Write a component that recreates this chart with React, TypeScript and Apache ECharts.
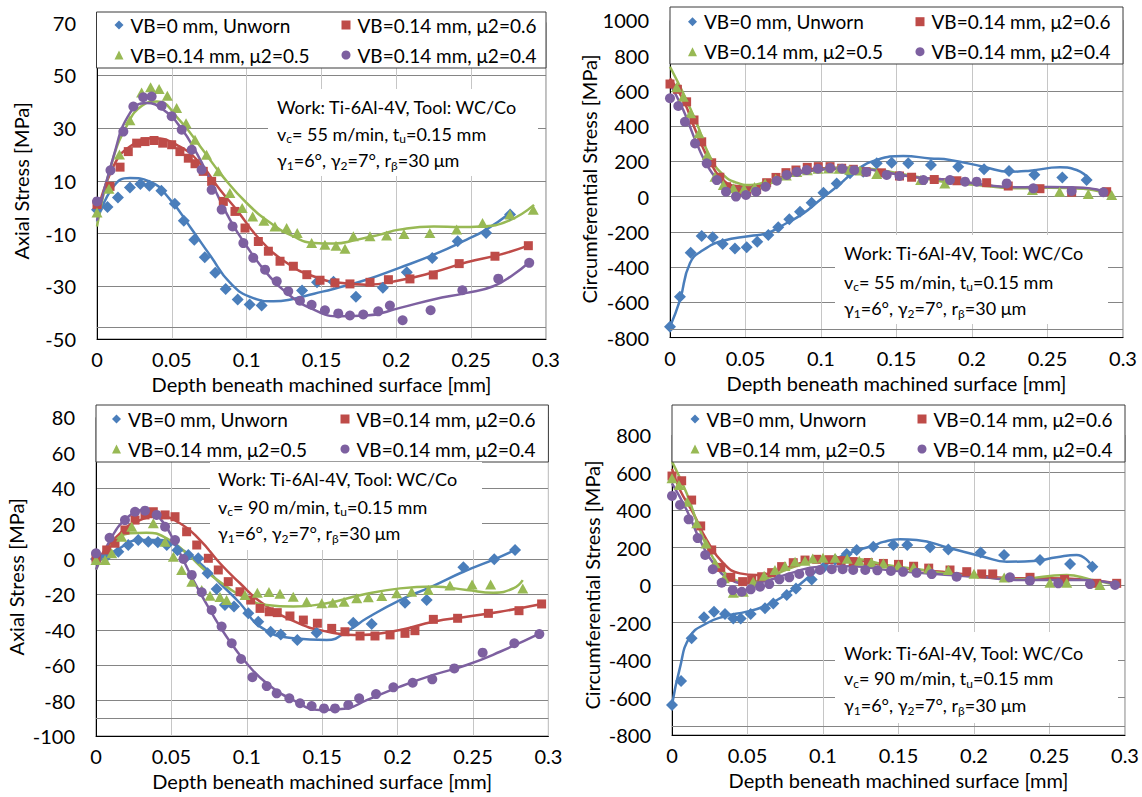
import React, { useEffect, useRef } from 'react';
import * as echarts from 'echarts';

type Pt = [number, number];

const FONT = 'Lato, "Open Sans", sans-serif';

const seriesNames = ['VB=0 mm, Unworn', 'VB=0.14 mm, μ2=0.6', 'VB=0.14 mm, μ2=0.5', 'VB=0.14 mm, μ2=0.4'];
const seriesColors = ['#4A7EBB', '#BE4B48', '#98B954', '#7D60A0'];
const seriesSymbols = ['diamond', 'rect', 'triangle', 'circle'];
const symbolSizes: (number | number[])[] = [12, 9, [11, 10], 10];

const xTickLabels = ['0', '0.05', '0.1', '0.15', '0.2', '0.25', '0.3'];
const xTitle = 'Depth beneath machined surface [mm]';
const axialTitle = 'Axial Stress [MPa]';
const circTitle = 'Circumferential Stress [MPa]';
const cuttingSpeeds = ['55', '55', '90', '90'];

// ---- Axial stress, vc = 55 m/min ----
const tlBluePts: Pt[] = [[0, -1], [0.007, 0.1], [0.014, 3.7], [0.022, 7.5], [0.029, 8.8], [0.035, 8.1], [0.043, 6.2], [0.052, 1.3], [0.058, -5.1], [0.065, -12.3], [0.072, -19], [0.079, -24.9], [0.086, -31], [0.094, -35], [0.102, -36.9], [0.11, -37.3], [0.137, -31.6], [0.147, -28.5], [0.158, -28.3], [0.173, -34], [0.191, -30.6], [0.207, -24.7], [0.224, -19.3], [0.241, -12.9], [0.26, -9.8], [0.276, -2.8]];
const tlRedPts: Pt[] = [[0, 1], [0.0087, 7.9], [0.0154, 15.2], [0.0209, 21.1], [0.0265, 24.3], [0.0321, 24.9], [0.0381, 25.3], [0.0439, 24.3], [0.0499, 23.7], [0.0554, 21.1], [0.061, 18.6], [0.0655, 16.5], [0.071, 13.6], [0.0766, 9.8], [0.0844, 2.2], [0.0922, -1.6], [0.0989, -7.9], [0.1078, -13], [0.1145, -16.7], [0.1223, -20.5], [0.1312, -22.4], [0.1402, -25.6], [0.149, -27.7], [0.159, -28.7], [0.169, -29.1], [0.1824, -28.5], [0.1947, -27.5], [0.2091, -27.2], [0.2247, -25.7], [0.242, -21.4], [0.2659, -18.6], [0.2882, -14.6]];
const tlGreenPts: Pt[] = [[0, -2], [0.008, 7], [0.015, 20], [0.022, 33], [0.0298, 43.5], [0.0358, 45.5], [0.0415, 44.8], [0.047, 42.3], [0.0532, 37.6], [0.0595, 31.9], [0.0655, 25.6], [0.0732, 19.9], [0.081, 13.6], [0.0888, 5.4], [0.097, -0.3], [0.104, -3.5], [0.1115, -5.1], [0.1189, -7.3], [0.1267, -7.9], [0.1338, -9.8], [0.1434, -13.6], [0.1523, -14.2], [0.1597, -14.6], [0.1657, -15.8], [0.1713, -11], [0.1824, -11], [0.1935, -10.7], [0.2051, -10.2], [0.2224, -9.8], [0.2403, -8.5], [0.2576, -6], [0.2759, -2.8], [0.2915, -1]];
const tlPurplePts: Pt[] = [[0, 2.2], [0.009, 14], [0.0176, 28.7], [0.0243, 38.2], [0.0309, 41.7], [0.0365, 42], [0.0432, 38.5], [0.0499, 34.5], [0.0566, 29.4], [0.0633, 21.8], [0.0699, 14.2], [0.0766, 6.6], [0.0833, -0.9], [0.0906, -7.3], [0.0978, -13.6], [0.1044, -19.2], [0.1123, -23.7], [0.1201, -28.1], [0.1278, -31.9], [0.1356, -35.5], [0.1434, -37], [0.1523, -39.1], [0.1612, -40.3], [0.169, -41.1], [0.1779, -40.7], [0.1879, -39.5], [0.1957, -37.3], [0.2042, -42.9], [0.2229, -39.1], [0.2441, -31.5], [0.2681, -27.1], [0.2888, -21.1]];
const tlBlueFit: Pt[] = [[0, -5.4], [0.011, 7.9], [0.022, 11.1], [0.035, 9.8], [0.049, 2.8], [0.062, -7.3], [0.076, -18.6], [0.089, -28.7], [0.104, -34.4], [0.118, -35.7], [0.131, -34.8], [0.145, -32.8], [0.158, -31], [0.18, -27.5], [0.202, -23], [0.225, -18], [0.247, -12.3], [0.26, -8.5], [0.276, -2.2]];
const tlRedFit: Pt[] = [[0, -2.2], [0.011, 15.5], [0.022, 23], [0.0376, 26.2], [0.0554, 23], [0.0688, 16.7], [0.0822, 6.6], [0.0933, -1], [0.1089, -12.3], [0.1267, -21.1], [0.1445, -26.2], [0.1623, -28.7], [0.18, -29.4], [0.2024, -27.7], [0.2247, -24.7], [0.247, -20.9], [0.2692, -18], [0.2882, -14.6]];
const tlGreenFit: Pt[] = [[0, -7.3], [0.01, 17], [0.02, 31], [0.03, 38.5], [0.04, 40.1], [0.055, 33.1], [0.069, 23], [0.084, 11.7], [0.1, 1.6], [0.116, -6], [0.131, -11], [0.145, -13.6], [0.158, -13.8], [0.174, -12.3], [0.189, -10.4], [0.202, -8.5], [0.225, -7.3], [0.243, -7.5], [0.256, -7.3], [0.274, -5.4], [0.292, 0.9]];
const tlPurpleFit: Pt[] = [[0, -5], [0.011, 19.2], [0.022, 35.7], [0.0331, 39.5], [0.0443, 37], [0.0554, 30.6], [0.0666, 20.5], [0.0777, 7.9], [0.0888, -4.7], [0.1, -14.8], [0.1133, -24.9], [0.1267, -32.5], [0.1445, -38.8], [0.1623, -41.4], [0.18, -41.1], [0.2024, -38.2], [0.2247, -35], [0.247, -32.5], [0.2648, -30], [0.2781, -25.6], [0.2888, -20.9]];

// ---- Circumferential stress, vc = 55 m/min ----
const trBluePts: Pt[] = [[0, -738], [0.0066, -568], [0.0137, -318], [0.021, -224], [0.0283, -231], [0.0349, -269], [0.043, -294], [0.0508, -288], [0.0578, -256], [0.0651, -218], [0.0717, -174], [0.079, -129], [0.0861, -86], [0.0938, -35], [0.1016, 22], [0.1104, 75], [0.1192, 132], [0.128, 141], [0.1369, 189], [0.1468, 192], [0.1578, 189], [0.1728, 179], [0.1909, 170], [0.208, 155], [0.2245, 145], [0.2413, 124], [0.2598, 109], [0.2759, 94]];
const trRedPts: Pt[] = [[0, 639], [0.0049, 609], [0.011, 538], [0.0159, 435], [0.021, 311], [0.0276, 192], [0.033, 110], [0.0375, 56], [0.0441, 28], [0.0508, 28], [0.0574, 41], [0.064, 79], [0.0702, 109], [0.0768, 136], [0.0834, 151], [0.0909, 166], [0.0982, 170], [0.106, 170], [0.1137, 161], [0.1214, 155], [0.1298, 141], [0.14, 135], [0.152, 117], [0.16, 110], [0.175, 97], [0.19, 90], [0.2097, 79], [0.224, 60], [0.245, 45], [0.266, 25], [0.2892, 28]];
const trGreenPts: Pt[] = [[0.0044, 620], [0.0088, 567], [0.0137, 473], [0.0192, 359], [0.0247, 236], [0.0298, 113], [0.0353, 66], [0.042, 48], [0.049, 45], [0.056, 55], [0.063, 75], [0.07, 100], [0.077, 120], [0.084, 140], [0.091, 150], [0.098, 158], [0.105, 160], [0.112, 158], [0.119, 152], [0.1259, 148], [0.1369, 128], [0.166, 94], [0.182, 75], [0.24, 38], [0.258, 28], [0.277, 15], [0.2925, 9]];
const trPurplePts: Pt[] = [[0, 558], [0.0055, 514], [0.0099, 425], [0.0166, 302], [0.0243, 189], [0.031, 94], [0.0371, 28], [0.0437, 0], [0.0503, 9], [0.057, 28], [0.0633, 56], [0.0707, 90], [0.0773, 123], [0.084, 140], [0.0905, 151], [0.098, 158], [0.106, 162], [0.114, 158], [0.122, 150], [0.13, 140], [0.1435, 123], [0.152, 117], [0.1678, 94], [0.1854, 94], [0.1954, 85], [0.2031, 85], [0.223, 75], [0.2406, 47], [0.266, 32], [0.287, 25]];
const trBlueFit: Pt[] = [[0, -738], [0.0066, -587], [0.0132, -378], [0.022, -303], [0.0353, -250], [0.053, -224], [0.064, -208], [0.075, -161], [0.0883, -95], [0.0993, -19], [0.1104, 56], [0.1236, 151], [0.1369, 208], [0.1545, 230], [0.1722, 217], [0.1854, 208], [0.2075, 170], [0.2252, 141], [0.2384, 147], [0.2583, 166], [0.2693, 151], [0.2781, 94]];
const trRedFit: Pt[] = [[0, 671], [0.0088, 548], [0.0177, 359], [0.0265, 198], [0.0353, 94], [0.0441, 60], [0.053, 56], [0.066, 85], [0.0817, 132], [0.0971, 160], [0.1148, 164], [0.1302, 158], [0.141, 141], [0.163, 110], [0.1854, 94], [0.2075, 66], [0.2296, 51], [0.2517, 53], [0.2737, 47], [0.2914, 15]];
const trGreenFit: Pt[] = [[0, 737], [0.0088, 586], [0.0177, 416], [0.0265, 226], [0.0353, 123], [0.0441, 79], [0.053, 66], [0.064, 85], [0.0795, 123], [0.0971, 151], [0.1148, 164], [0.1302, 160], [0.1457, 141], [0.1634, 113], [0.181, 85], [0.2075, 62], [0.2296, 48], [0.2517, 50], [0.2737, 45], [0.2914, 9]];
const trPurpleFit: Pt[] = [[0, 640], [0.0088, 491], [0.0177, 302], [0.0265, 151], [0.0353, 75], [0.0441, 47], [0.053, 47], [0.0662, 75], [0.0817, 123], [0.0971, 151], [0.1148, 160], [0.1302, 155], [0.141, 141], [0.163, 110], [0.1854, 94], [0.2075, 68], [0.2296, 53], [0.2517, 55], [0.2737, 50], [0.2914, 18]];

// ---- Axial stress, vc = 90 m/min ----
const blBluePts: Pt[] = [[0, 0], [0.007, 1.5], [0.0148, 4.1], [0.0214, 7.9], [0.028, 10.7], [0.0347, 9.8], [0.041, 9.5], [0.0469, 7.9], [0.054, 5], [0.0612, 2.3], [0.0678, 0.4], [0.074, -8], [0.08, -17], [0.0855, -26], [0.0915, -26.9], [0.101, -30.7], [0.1076, -35.4], [0.1158, -41.1], [0.1225, -42.6], [0.1335, -45.8], [0.1463, -41.6], [0.1706, -36], [0.1828, -36.7], [0.2049, -24.7], [0.2193, -23.2], [0.2436, -4.7], [0.2641, -0.2], [0.2779, 5.1]];
const blRedPts: Pt[] = [[0, 0.4], [0.0071, 5.1], [0.0126, 8.9], [0.0192, 16.4], [0.0259, 22], [0.0325, 24.9], [0.038, 26.7], [0.0458, 24.9], [0.0524, 23.9], [0.0601, 15.4], [0.0668, 7.9], [0.0745, 0.4], [0.0811, -6.2], [0.0877, -12.8], [0.0955, -18.5], [0.1026, -23.2], [0.1088, -27.9], [0.1149, -29.8], [0.1202, -30.3], [0.1286, -32.2], [0.1375, -34.5], [0.1468, -36.3], [0.1563, -39.2], [0.1651, -41.1], [0.1751, -43.5], [0.185, -43.5], [0.195, -42.9], [0.2049, -42], [0.2115, -40.5], [0.2237, -34.1], [0.2398, -33.5], [0.2602, -30.7], [0.2805, -29.2], [0.2955, -25.4]];
const blGreenPts: Pt[] = [[0, -0.6], [0.006, -0.6], [0.0104, 3.2], [0.017, 12.6], [0.0237, 18.2], [0.038, 20.2], [0.0458, 9.8], [0.0513, 1.3], [0.0568, -6.2], [0.0635, -12.8], [0.0701, -17.5], [0.0756, -20.8], [0.0822, -21.5], [0.0866, -23.2], [0.0988, -20.3], [0.107, -19], [0.1147, -18.7], [0.122, -19.6], [0.1308, -21.3], [0.1397, -24.1], [0.1497, -25], [0.157, -24.7], [0.1645, -24.1], [0.1729, -22.2], [0.1806, -21.6], [0.1895, -20.9], [0.1994, -19.4], [0.2093, -18.5], [0.2204, -17.5], [0.2347, -15], [0.2494, -14.4], [0.2617, -14.4], [0.283, -16.6]];
const blPurplePts: Pt[] = [[0, 3.2], [0.009, 12], [0.0192, 22], [0.0259, 26.7], [0.0325, 27.3], [0.0402, 24.9], [0.0458, 18.2], [0.0524, 10.7], [0.058, 0], [0.0635, -9], [0.0701, -18.8], [0.0767, -28.8], [0.0833, -38.2], [0.09, -47.6], [0.0962, -56.5], [0.1037, -66.8], [0.1132, -71.8], [0.1198, -75.9], [0.1282, -78.7], [0.1353, -81.5], [0.143, -83.1], [0.1512, -84.4], [0.1585, -84.4], [0.1673, -82.5], [0.1745, -78.7], [0.1857, -76.3], [0.1972, -72.5], [0.21, -69.9], [0.223, -68], [0.2376, -61.8], [0.2564, -52.9], [0.2774, -47.6], [0.294, -42.4]];
const blBlueFit: Pt[] = [[0, -2.4], [0.0137, 5.1], [0.0292, 10.7], [0.0424, 10.7], [0.0557, 6], [0.069, -2.4], [0.0822, -13.7], [0.0955, -25], [0.1088, -38.2], [0.1308, -44.8], [0.153, -45.8], [0.168, -40], [0.1795, -33.5], [0.2016, -23.2], [0.2215, -16], [0.2436, -7.2], [0.2657, 0.4], [0.2779, 5.1]];
const blRedFit: Pt[] = [[0, -2.4], [0.0137, 12.6], [0.0292, 22], [0.0424, 23.9], [0.0557, 20.2], [0.069, 10.7], [0.0822, -2.4], [0.0955, -13.7], [0.1088, -24], [0.1308, -35], [0.153, -41], [0.1751, -42.9], [0.2016, -40.1], [0.2237, -35.4], [0.2458, -32.6], [0.2679, -29.8], [0.2955, -25.4]];
const blGreenFit: Pt[] = [[0, -6], [0.0093, 6.9], [0.0225, 14.5], [0.0336, 14.9], [0.0469, 11.7], [0.0601, 3.2], [0.0734, -7.2], [0.0866, -15.6], [0.0999, -22.5], [0.1132, -26], [0.1308, -26.9], [0.153, -25], [0.1751, -20.5], [0.2016, -16.6], [0.2237, -15.6], [0.2458, -17.5], [0.2635, -19], [0.2767, -16.6], [0.283, -11.9]];
const blPurpleFit: Pt[] = [[0, -6], [0.0093, 10.7], [0.0203, 23], [0.0314, 27.7], [0.0424, 23], [0.0535, 6.9], [0.0645, -11.9], [0.0756, -28.8], [0.0866, -43.9], [0.0999, -58.9], [0.1132, -70.2], [0.1308, -79.7], [0.1485, -85.3], [0.1662, -84.4], [0.1795, -79.7], [0.2016, -72.1], [0.2237, -65.5], [0.2458, -59.9], [0.2679, -52.4], [0.2944, -42]];

// ---- Circumferential stress, vc = 90 m/min ----
const brBluePts: Pt[] = [[0, -640], [0.006, -512], [0.013, -284], [0.0212, -172], [0.0278, -142], [0.0351, -155], [0.0406, -178], [0.0455, -178], [0.0521, -155], [0.0616, -124], [0.0671, -98], [0.076, -53], [0.0821, -18], [0.0925, 30], [0.1005, 95], [0.108, 135], [0.1157, 165], [0.1223, 187], [0.1333, 204], [0.1466, 213], [0.1558, 213], [0.1709, 201], [0.183, 190], [0.2044, 174], [0.2199, 160], [0.2437, 133], [0.2636, 112], [0.2784, 98]];
const brRedPts: Pt[] = [[0, 581], [0.0064, 556], [0.013, 453], [0.019, 315], [0.0263, 187], [0.0323, 94], [0.0389, 41], [0.0468, 18], [0.0528, 27], [0.0594, 44], [0.066, 66], [0.0726, 98], [0.0803, 119], [0.0881, 133], [0.0958, 137], [0.104, 135], [0.112, 130], [0.12, 125], [0.13, 120], [0.14, 115], [0.15, 110], [0.16, 100], [0.17, 90], [0.1841, 80], [0.1952, 71], [0.2051, 59], [0.2124, 59], [0.2371, 41], [0.26, 30], [0.2813, 9], [0.2945, 9]];
const brGreenPts: Pt[] = [[0, 570], [0.0046, 533], [0.0101, 444], [0.0164, 329], [0.0225, 222], [0.0285, 116], [0.0346, 36], [0.0406, -41], [0.0472, -36], [0.0538, 18], [0.061, 50], [0.0682, 80], [0.0748, 101], [0.0815, 124], [0.0881, 130], [0.0932, 142], [0.1, 145], [0.108, 145], [0.116, 140], [0.124, 130], [0.132, 122], [0.14, 115], [0.15, 105], [0.16, 95], [0.17, 88], [0.183, 80], [0.2, 60], [0.22, 40], [0.2503, 12], [0.2614, 12], [0.2834, 0]];
const brPurplePts: Pt[] = [[0, 475], [0.0053, 427], [0.011, 350], [0.017, 250], [0.022, 160], [0.027, 84], [0.0329, 12], [0.0402, -27], [0.0462, -36], [0.0521, -23], [0.0583, -9], [0.0644, 5], [0.0711, 30], [0.0777, 41], [0.0843, 59], [0.0914, 71], [0.098, 80], [0.1058, 84], [0.113, 84], [0.12, 80], [0.128, 80], [0.136, 78], [0.145, 75], [0.153, 70], [0.162, 65], [0.172, 58], [0.1885, 44], [0.2238, 41], [0.237, 23], [0.2558, 9], [0.2768, 5], [0.2934, 0]];
const brBlueFit: Pt[] = [[0, -640], [0.005, -450], [0.0119, -275], [0.023, -204], [0.034, -169], [0.0495, -142], [0.0605, -116], [0.0715, -71], [0.0826, -9], [0.0936, 62], [0.1068, 133], [0.1201, 178], [0.1333, 210], [0.14, 230], [0.151, 244], [0.162, 240], [0.1841, 196], [0.2062, 151], [0.2217, 124], [0.2393, 128], [0.2548, 148], [0.268, 160], [0.2768, 116]];
const brRedFit: Pt[] = [[0, 620], [0.0053, 507], [0.0141, 382], [0.023, 240], [0.034, 116], [0.045, 62], [0.0561, 53], [0.0715, 80], [0.0892, 124], [0.1068, 140], [0.1245, 130], [0.14, 105], [0.162, 82], [0.1841, 66], [0.2062, 48], [0.2283, 36], [0.2503, 36], [0.2724, 30], [0.2945, 9]];
const brGreenFit: Pt[] = [[0, 658], [0.0097, 489], [0.0185, 293], [0.0274, 142], [0.0384, 44], [0.0495, 18], [0.0627, 36], [0.0781, 89], [0.098, 133], [0.1201, 140], [0.14, 110], [0.162, 85], [0.1841, 59], [0.2062, 41], [0.2283, 30], [0.2503, 48], [0.2614, 53], [0.2768, 30], [0.2914, 5]];
const brPurpleFit: Pt[] = [[0, 542], [0.0097, 400], [0.0185, 240], [0.0274, 116], [0.0384, 30], [0.0495, 9], [0.0627, 23], [0.0781, 62], [0.098, 98], [0.1201, 100], [0.14, 82], [0.162, 66], [0.1841, 53], [0.2062, 41], [0.2283, 27], [0.2503, 27], [0.2724, 27], [0.2945, 4]];

// Panel layout: plot rectangles, axis ranges, legend and note-box placement.
const panels = [
  {
    grid: { left: 97, top: 22.7, width: 449, height: 316.3 },
    yMin: -50, yMax: 70, yStep: 20, yName: axialTitle, yNameGap: 66, refLine: -45.5,
    pts: [tlBluePts, tlRedPts, tlGreenPts, tlPurplePts],
    fits: [tlBlueFit, tlRedFit, tlGreenFit, tlPurpleFit],
    legendTop: 14, legendLeft: [114.5, 341.5], legendBox: [96.5, 12, 449.5, 56],
    noteBox: [268, 89, 270, 87], noteX: 277, noteY: [107, 133.5, 160],
  },
  {
    grid: { left: 670, top: 20.4, width: 453, height: 317.2 },
    yMin: -800, yMax: 1000, yStep: 200, yName: circTitle, yNameGap: 69, refLine: -750,
    pts: [trBluePts, trRedPts, trGreenPts, trPurplePts],
    fits: [trBlueFit, trRedFit, trGreenFit, trPurpleFit],
    legendTop: 10.7, legendLeft: [688, 915.5], legendBox: [670, 7, 453, 57],
    noteBox: [835, 235, 273, 89], noteX: 844, noteY: [253.3, 281.5, 308.3],
  },
  {
    grid: { left: 96, top: 417.4, width: 452.4, height: 318.6 },
    yMin: -100, yMax: 80, yStep: 20, yName: axialTitle, yNameGap: 70, refLine: -89.7,
    pts: [blBluePts, blRedPts, blGreenPts, blPurplePts],
    fits: [blBlueFit, blRedFit, blGreenFit, blPurpleFit],
    legendTop: 408, legendLeft: [112, 340.5], legendBox: [96, 405, 452.4, 57],
    noteBox: [210, 462, 272, 88], noteX: 218, noteY: [479.3, 506.7, 533.3],
  },
  {
    grid: { left: 672, top: 435, width: 453, height: 300 },
    yMin: -800, yMax: 800, yStep: 200, yName: circTitle, yNameGap: 70, refLine: -752,
    pts: [brBluePts, brRedPts, brGreenPts, brPurplePts],
    fits: [brBlueFit, brRedFit, brGreenFit, brPurpleFit],
    legendTop: 408, legendLeft: [690.5, 917.5], legendBox: [672, 405, 453, 57],
    noteBox: [835, 632, 283, 91], noteX: 844, noteY: [653.3, 678.3, 705],
  },
];

const noteLines = (vc: string) => [
  '{t|Work: Ti-6Al-4V, Tool: WC/Co}',
  `{t|v}{s|c}{t|= ${vc} m/min, t}{s|u}{t|=0.15 mm}`,
  '{t|γ}{s|1}{t|=6°, γ}{s|2}{t|=7°, r}{s|β}{t|=30 μm}',
];

const labelStyle = { fontFamily: FONT, fontSize: 20, color: '#000' };

function buildOption() {
  const grid: any[] = [];
  const xAxis: any[] = [];
  const yAxis: any[] = [];
  const series: any[] = [];
  const legend: any[] = [];
  const graphic: any[] = [];

  panels.forEach((p, i) => {
    grid.push({ ...p.grid, show: true, borderColor: '#7f7f7f', borderWidth: 1, backgroundColor: '#fff' });
    xAxis.push({
      type: 'value', gridIndex: i, min: 0, max: 0.3, interval: 0.05,
      name: xTitle, nameLocation: 'middle', nameGap: 35,
      nameTextStyle: { ...labelStyle },
      axisLine: { show: true, onZero: false, lineStyle: { color: '#000', width: 1 } },
      axisTick: { show: false },
      axisLabel: { ...labelStyle, margin: 10, formatter: (v: number) => xTickLabels[Math.round(v / 0.05)] },
      splitLine: { show: true, lineStyle: { color: '#c6c6c6', width: 1 } },
    });
    yAxis.push({
      type: 'value', gridIndex: i, min: p.yMin, max: p.yMax, interval: p.yStep,
      name: p.yName, nameLocation: 'middle', nameGap: p.yNameGap,
      nameTextStyle: { ...labelStyle },
      axisLine: { show: true, onZero: false, lineStyle: { color: '#000', width: 1 } },
      axisTick: { show: false },
      axisLabel: { ...labelStyle, margin: 21, formatter: (v: number) => String(v) },
      splitLine: { show: true, lineStyle: { color: '#858585', width: 1 } },
    });

    p.fits.forEach((fit, k) => {
      series.push({
        type: 'line', name: seriesNames[k] + ' fit', xAxisIndex: i, yAxisIndex: i,
        data: fit, smooth: 0.5, showSymbol: false, silent: true, z: 2,
        lineStyle: { color: seriesColors[k], width: 2.5 },
        markLine: k === 0 ? {
          silent: true, symbol: 'none', label: { show: false },
          lineStyle: { color: '#858585', width: 1, type: 'solid' },
          data: [{ yAxis: p.refLine }],
        } : undefined,
      });
    });
    p.pts.forEach((pts, k) => {
      series.push({
        type: 'scatter', name: seriesNames[k], xAxisIndex: i, yAxisIndex: i,
        data: pts, symbol: seriesSymbols[k], symbolSize: symbolSizes[k], z: 3,
        itemStyle: { color: seriesColors[k], opacity: 1 },
      });
    });

    [[seriesNames[0], seriesNames[2]], [seriesNames[1], seriesNames[3]]].forEach((col, c) => {
      legend.push({
        orient: 'vertical', left: p.legendLeft[c], top: p.legendTop, padding: 0,
        itemGap: 8, itemWidth: 9, itemHeight: 9, selectedMode: false, z: 20,
        data: col, textStyle: { fontFamily: FONT, fontSize: 19, color: '#000', lineHeight: 22, padding: [0, 0, 0, 2] },
      });
    });

    const [bx, by, bw, bh] = p.legendBox;
    graphic.push({
      type: 'rect', z: 15, silent: true,
      shape: { x: bx, y: by, width: bw, height: bh },
      style: { fill: '#fff', stroke: '#3a3a3a', lineWidth: 1 },
    });
    const [nx, ny, nw, nh] = p.noteBox;
    graphic.push({
      type: 'rect', z: 15, silent: true,
      shape: { x: nx, y: ny, width: nw, height: nh },
      style: { fill: '#fff' },
    });
    noteLines(cuttingSpeeds[i]).forEach((line, j) => {
      graphic.push({
        type: 'text', z: 16, silent: true, x: p.noteX, y: p.noteY[j],
        style: {
          text: line, verticalAlign: 'middle', align: 'left',
          rich: {
            t: { fontFamily: FONT, fontSize: 18, fill: '#000' },
            s: { fontFamily: FONT, fontSize: 12, fill: '#000', padding: [10, 0, 0, 0] },
          },
        },
      });
    });
  });

  return { animation: false, backgroundColor: '#fff', grid, xAxis, yAxis, series, legend, graphic };
}

export default function App() {
  const ref = useRef<HTMLDivElement>(null);
  useEffect(() => {
    if (!ref.current) return;
    const chart = echarts.init(ref.current, undefined, { renderer: 'svg' });
    chart.setOption(buildOption() as any);
    return () => chart.dispose();
  }, []);
  return (
    <div
      ref={ref}
      style={{ position: 'fixed', left: 0, top: 0, width: 1142, height: 797, background: '#fff' }}
    />
  );
}
